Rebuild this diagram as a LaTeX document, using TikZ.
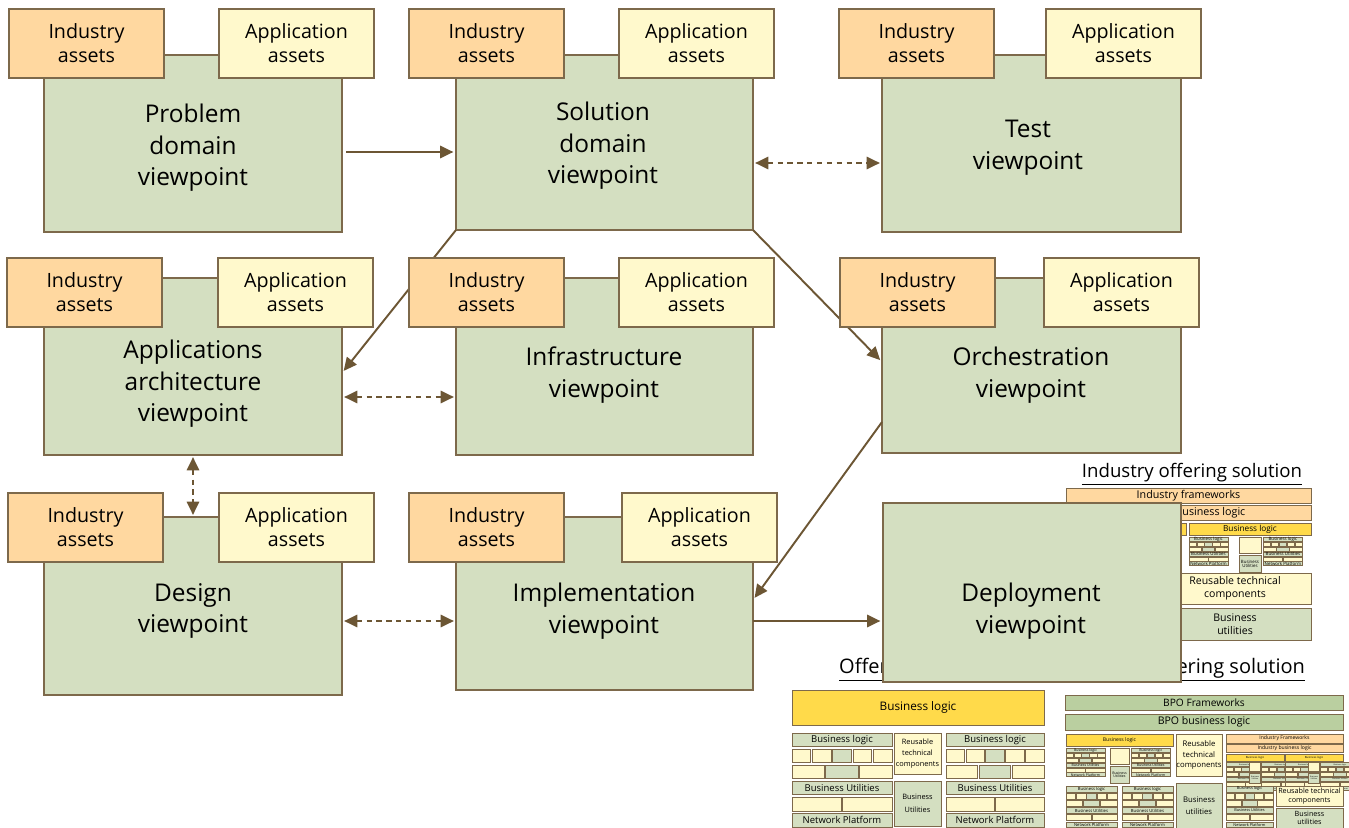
\documentclass[tikz,border=0pt]{standalone}
\usepackage{fontspec}
\setmainfont{Open Sans}
\usepackage{tikz}
\usetikzlibrary{arrows.meta}
\usetikzlibrary{calc}

\definecolor{viewgreen}{RGB}{212,223,193}
\definecolor{edgebrown}{RGB}{125,105,75}
\definecolor{arrowbrown}{RGB}{108,86,52}
\definecolor{indorange}{RGB}{255,216,160}
\definecolor{appyellow}{RGB}{255,249,204}
\definecolor{logicgold}{RGB}{255,218,74}
\definecolor{bpogreen}{RGB}{186,207,160}

\tikzset{
  minibar/.style = {draw=edgebrown, line width=.4pt, fill=viewgreen},
  minicell/.style = {draw=edgebrown, line width=.4pt, fill=appyellow},
  goldbar/.style = {draw=edgebrown, line width=.4pt, fill=logicgold},
  area/.style args = {#1/#2/#3/#4}{
    inner sep=0, outer sep=0,
    minimum width={(#3-#1)*0.02cm}, minimum height={(#4-#2)*0.02cm},
    at={({(#1+#3)/2},{(#2+#4)/2})}
  },
  pics/stack/.style args = {#1}{
    code = {
      % labelled bars
      \foreach \r/\t in {0/Business logic, 3/Business Utilities, 5/Network Platform}
      {
        \draw[minibar] (0,\r*16.3) rectangle ++(100,13.5);
        \node[inner sep=0, font=\fontsize{#1}{#1}\selectfont] (-bar\r) at (50,\r*16.3+6.75) {\t};
      }
      % row of five
      \foreach \i/\c in {0/minicell,1/minicell,2/minibar,3/minicell,4/minicell}
        \draw[\c] (\i*20.3,16.3) rectangle ++(18.8,13.5);
      % row of three
      \foreach \i/\c in {0/minicell,1/minibar,2/minicell}
        \draw[\c] (\i*33.83,32.6) rectangle ++(32.33,13.5);
      % row of two
      \foreach \i in {0,1}
        \draw[minicell] (\i*50.75,65.2) rectangle ++(49.25,13.5);
    },
  },
  pics/twin/.style args = {#1/#2}{
    code = {
      \draw[goldbar] (0,0) rectangle (100,10);
      \node[inner sep=0, font=\fontsize{#1}{#1}\selectfont] (-logic) at (50,5) {Business logic};
      \pic[xscale=.39, yscale=28/95] at (0,12) {stack=#2};
      \pic[xscale=.39, yscale=28/95] at (61,12) {stack=#2};
      % middle column
      \draw[minicell] (41,12) rectangle (59,24.5);
      \draw[minibar] (41,26.5) rectangle (59,40);
      \node[inner sep=0, align=center, font=\fontsize{#2}{#2}\selectfont] (-util) at (50,33.25) {Business\\Utilities};
    },
  },
}

\begin{document}
\begin{tikzpicture}[
    x=0.02cm, y=-0.02cm,
    viewbox/.style = {draw=edgebrown, line width=.8pt, fill=viewgreen, area=#1},
    viewtext/.style = {align=center, font=\fontsize{13.9}{18}\selectfont},
    indbox/.style = {draw=edgebrown, line width=.8pt, fill=indorange, align=center,
      font=\fontsize{11.2}{13.6}\selectfont},
    appbox/.style = {indbox, fill=appyellow},
    block/.style = {draw=edgebrown, line width=.5pt, align=center, area=#1},
    titletext/.style = {inner sep=0, font=\fontsize{11.4}{13}\selectfont},
    flow/.style = {draw=arrowbrown, line width=1.1pt, shorten >=1.5pt,
      -{Triangle[length=7.5pt, width=7pt]}},
    twoway/.style = {draw=arrowbrown, line width=1.1pt, dash pattern=on 3pt off 2.6pt,
      shorten <=1.2pt, shorten >=1.2pt,
      {Triangle[length=7.5pt, width=7pt]}-{Triangle[length=7.5pt, width=7pt]}},
  ]
  \useasboundingbox (0,0) rectangle (1349,828);

  % Industry offering solution
  \node[titletext, font=\fontsize{10.6}{12}\selectfont] (ind-title) at (1192,474) {\underline{Industry offering solution}};
  \node[block=1066/488/1311/503, fill=indorange, font=\fontsize{6.1}{7}\selectfont] (ind-frame) {Industry frameworks};
  \node[block=1066/505/1311/520, fill=indorange, font=\fontsize{6.1}{7}\selectfont] (ind-logic) {Industry business logic};
  \pic[xscale=1.2, yscale=1.225] at (1066,523) {twin=4.7/2.5};
  \pic[xscale=1.22, yscale=1.225] at (1189,523) {twin=4.7/2.5};
  \node[block=1159/573/1311/604, fill=appyellow, font=\fontsize{6}{7.2}\selectfont] (ind-reuse) {Reusable technical\\components};
  \node[block=1159/608/1311/640, fill=viewgreen, font=\fontsize{6}{7.2}\selectfont] (ind-util) {Business\\utilities};

  % Offering solution
  \node[titletext] (off-title) at (918,670) {\underline{Offering solution}};
  \node[block=792/690/1044/725, fill=logicgold, font=\fontsize{6.7}{8}\selectfont] (off-logic) {Business logic};
  \pic[yscale=.99] at (792,733) {stack=5.4};
  \pic[xscale=.98, yscale=.99] at (946,733) {stack=5.4};
  \node[block=894/733/941/774, fill=appyellow, font=\fontsize{4.2}{6.2}\selectfont] (off-reuse) {Reusable\\technical\\components};
  \node[block=894/781/941/826, fill=viewgreen, font=\fontsize{4.2}{7.2}\selectfont] (off-util) {Business\\Utilities};

  % BPO offering solution
  \node[titletext] (bpo-title) at (1205,670) {\underline{BPO offering solution}};
  \node[block=1065/695/1343/710, fill=bpogreen, font=\fontsize{5.8}{7}\selectfont] (bpo-frame) {BPO Frameworks};
  \node[block=1065/714/1343/730, fill=bpogreen, font=\fontsize{6}{7}\selectfont] (bpo-logic) {BPO business logic};
  \pic[xscale=1.07, yscale=1.225] at (1066,734) {twin=2.9/2};
  \pic[xscale=.51, yscale=.44] at (1066,786) {stack=2.4};
  \pic[xscale=.51, yscale=.44] at (1122,786) {stack=2.4};
  \node[block=1176/734/1222/776, fill=appyellow, font=\fontsize{4.4}{6}\selectfont] (bpo-reuse) {Reusable\\technical\\components};
  \node[block=1176/783/1222/828, fill=viewgreen, font=\fontsize{4.4}{6.5}\selectfont] (bpo-util) {Business\\utilities};
  \node[block=1226/734/1343/743, fill=indorange, font=\fontsize{2.9}{3}\selectfont] (bpo-indframe) {Industry Frameworks};
  \node[block=1226/744/1343/752, fill=indorange, font=\fontsize{2.9}{3}\selectfont] (bpo-indlogic) {Industry business logic};
  \pic[xscale=.58, yscale=.725] at (1226,754) {twin=1.6/1.1};
  \pic[xscale=.58, yscale=.725] at (1285,754) {twin=1.6/1.1};
  \pic[xscale=.47, yscale=.44] at (1226,786) {stack=2.2};
  \node[block=1276/786/1343/806, fill=appyellow, font=\fontsize{4.1}{4.8}\selectfont] (bpo-reuse2) {Reusable technical\\components};
  \node[block=1276/808/1343/828, fill=viewgreen, font=\fontsize{4.1}{4.8}\selectfont] (bpo-util2) {Business\\utilities};

  % viewpoint boxes
  \foreach \vp/\xa/\ya/\xb/\yb in {prob/44/55/342/232, sol/456/55/753/230, test/882/55/1181/232,
      apparch/44/278/342/455, infra/456/278/753/455, orch/882/278/1181/453,
      design/44/517/342/695, impl/456/517/753/690, deploy/883/503/1181/682}
    \node[viewbox=\xa/\ya/\xb/\yb] (\vp) {};

  % connectors
  \draw[flow, shorten <=2.3pt] (prob.east |- 0,152) -- (sol.west |- 0,152);
  \draw[twoway] (sol.east |- 0,163) -- (test.west |- 0,163);
  \draw[flow] (sol.south west) -- (apparch.east |- 0,373);
  \draw[flow] (sol.south east) -- (orch.west |- 0,362);
  \draw[twoway] (apparch.east |- 0,397) -- (infra.west |- 0,397);
  \draw[twoway] (apparch.south) -- (design.north);
  \draw[flow] (orch.west |- 0,422) -- (impl.east |- 0,600);
  \draw[twoway] (design.east |- 0,621) -- (impl.west |- 0,621);
  \draw[flow] (impl.east |- 0,621) -- (deploy.west |- 0,621);

  % asset boxes
  \foreach \vp/\ix/\iy/\ax/\ay in {prob/9/9/219/9, sol/409/9/619/9, test/839/9/1046/9,
      apparch/7/258/218/258, infra/409/258/619/258, orch/840/258/1044/258,
      design/8/493/219/493, impl/409/493/622/493}
  {
    \node[indbox, area=\ix/\iy/\ix+155/\iy+69] (\vp-ind) {Industry\\assets};
    \node[appbox, area=\ax/\ay/\ax+155/\ay+69] (\vp-app) {Application\\assets};
  }

  % viewpoint names
  \foreach \vp/\x/\y/\t in {prob/193/148/{Problem\\domain\\viewpoint}, sol/603/146/{Solution\\domain\\viewpoint},
      test/1028/148/{Test\\viewpoint}, apparch/193/384/{Applications\\architecture\\viewpoint},
      infra/604/375/{Infrastructure\\viewpoint}, orch/1031/375/{Orchestration\\viewpoint},
      design/193/611/{Design\\viewpoint}, impl/604/611/{Implementation\\viewpoint},
      deploy/1031/611/{Deployment\\viewpoint}}
    \node[viewtext] (\vp-txt) at (\x,\y) {\t};
\end{tikzpicture}
\end{document}
